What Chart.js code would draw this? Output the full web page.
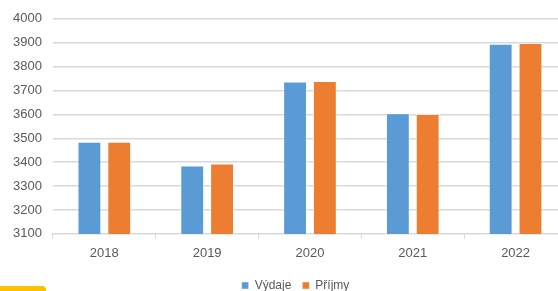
<!DOCTYPE html>
<html>
<head>
<meta charset="utf-8">
<script src="https://cdn.jsdelivr.net/npm/chart.js@4/dist/chart.umd.min.js"></script>
<style>
    html, body { margin: 0; padding: 0; background: #fff; overflow: hidden; }
    #wrap { position: relative; width: 592px; height: 291px; }
    #tag { position: absolute; left: 0; top: 286px; width: 46px; height: 8px; background: #ffc000; border-radius: 0 5px 5px 0; }
</style>
</head>
<body>
<div id="wrap">
    <canvas id="chart"></canvas>
</div>
<div id="tag"></div>
<script>
const roky = ['2018', '2019', '2020', '2021', '2022'];
const vydaje = [3486, 3386, 3738, 3605, 3896];
const prijmy = [3486, 3395, 3740, 3602, 3899];
const nazvy = ['Výdaje', 'Příjmy'];
const barvy = ['#5b9bd5', '#ed7d31'];

const textColor = '#595959';
const gridColor = '#d9d9d9';

// legenda je v originale trochu vpravo od stredu
const posunLegendy = {
    id: 'posunLegendy',
    afterLayout(chart) {
        if (chart.legend) {
            chart.legend.left += 11;
            chart.legend.right += 11;
        }
    }
};

new Chart(document.getElementById('chart'), {
    type: 'bar',
    plugins: [posunLegendy],
    data: {
        labels: roky,
        datasets: [
            {
                label: nazvy[0],
                data: vydaje,
                backgroundColor: barvy[0],
                borderColor: 'rgba(255,255,255,0.4)',
                borderWidth: 1,
                categoryPercentage: 0.58,
                barPercentage: 0.8
            },
            {
                label: nazvy[1],
                data: prijmy,
                backgroundColor: barvy[1],
                borderColor: 'rgba(255,255,255,0.4)',
                borderWidth: 1,
                categoryPercentage: 0.58,
                barPercentage: 0.8
            }
        ]
    },
    options: {
        responsive: true,
        maintainAspectRatio: false,
        animation: false,
        layout: {
            padding: { left: 2, right: 25, top: 7, bottom: -10.5 }
        },
        plugins: {
            tooltip: { enabled: false },
            legend: {
                position: 'bottom',
                labels: {
                    boxWidth: 7,
                    boxHeight: 7,
                    padding: 11,
                    color: textColor,
                    font: { family: 'Liberation Sans', size: 12 }
                }
            }
        },
        scales: {
            x: {
                grid: {
                    display: true,
                    drawOnChartArea: false,
                    drawTicks: true,
                    tickLength: 5,
                    color: gridColor
                },
                border: { color: gridColor },
                ticks: {
                    color: textColor,
                    padding: 7,
                    font: { family: 'Liberation Sans', size: 13 }
                }
            },
            y: {
                min: 3100,
                max: 4000,
                grid: {
                    color: gridColor,
                    lineWidth: 1.5,
                    drawTicks: false
                },
                border: { display: false },
                ticks: {
                    stepSize: 100,
                    color: textColor,
                    padding: 11,
                    font: { family: 'Liberation Sans', size: 13 },
                    callback: (v) => String(v)
                }
            }
        }
    }
});
</script>
</body>
</html>
